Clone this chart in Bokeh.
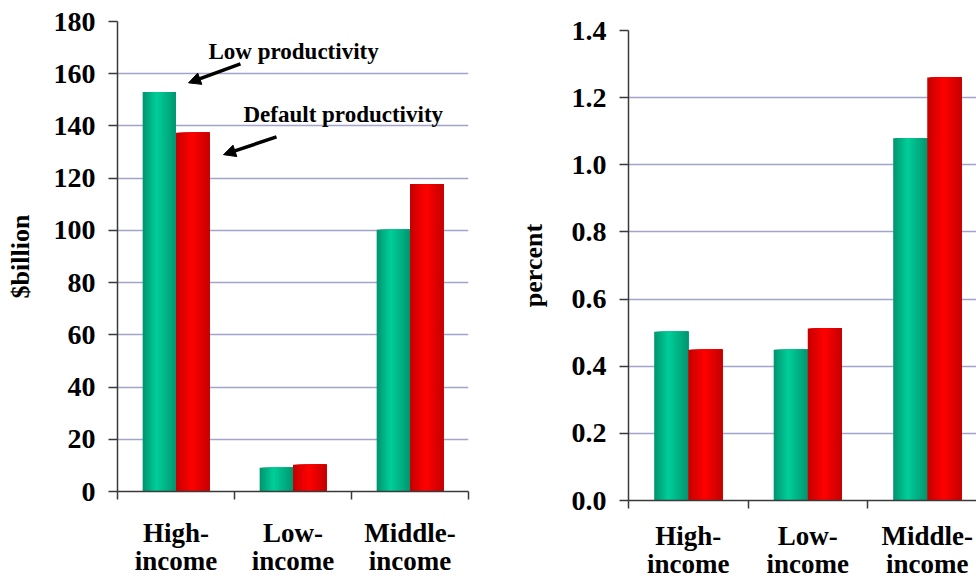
from bokeh.plotting import figure
from bokeh.layouts import row, column
from bokeh.models import Range1d, FixedTicker, Arrow, NormalHead, Label
from bokeh.embed import file_html
from bokeh.resources import INLINE

# --- data -----------------------------------------------------------------
categories = ["High-\nincome", "Low-\nincome", "Middle-\nincome"]

# Welfare change, $billion
billion_low_prod = [153.0, 9.1, 100.2]
billion_default_prod = [137.4, 10.2, 117.8]

# Welfare change, percent
percent_low_prod = [0.503, 0.449, 1.079]
percent_default_prod = [0.449, 0.512, 1.26]

billion_ticks = [0, 20, 40, 60, 80, 100, 120, 140, 160, 180]
percent_ticks = [0.0, 0.2, 0.4, 0.6, 0.8, 1.0, 1.2, 1.4]

series_names = ["Low productivity", "Default  productivity"]

# --- styling --------------------------------------------------------------
FONT = "Liberation Serif"
GRID = "#A3A3CB"
AXIS = "#3a3a3a"
BAR_W = 0.285
N_STRIPS = 20

GREEN_STOPS = [(0.0, (0, 148, 110)), (0.42, (0, 206, 154)), (1.0, (0, 150, 112))]
RED_STOPS = [(0.0, (196, 0, 0)), (0.48, (255, 0, 0)), (1.0, (196, 0, 0))]


def shade(stops, t):
    for (t0, c0), (t1, c1) in zip(stops[:-1], stops[1:]):
        if t0 <= t <= t1:
            f = (t - t0) / (t1 - t0)
            r, g, b = (round(a + (bb - a) * f) for a, bb in zip(c0, c1))
            return "#%02x%02x%02x" % (r, g, b)
    return "#%02x%02x%02x" % stops[-1][1]


def shaded_bars(p, centers, tops, stops):
    # cylinder shading: each strip starts a little further right and runs to
    # the bar's right edge, so later strips overlay earlier ones without seams
    sw = BAR_W / N_STRIPS
    for k in range(N_STRIPS):
        t = (k + 0.5) / N_STRIPS
        w = BAR_W - k * sw
        xs = [c - BAR_W / 2 + k * sw + w / 2 for c in centers]
        p.vbar(x=xs, top=tops, bottom=0, width=w,
               fill_color=shade(stops, t), line_color=None)


def make_panel(width, y_end, y_ticks, low, default, y_label, x_end,
               border_left, border_right, border_top, border_bottom, fmt,
               label_standoff, cat_standoff):
    p = figure(width=width, height=582, output_backend="svg",
               toolbar_location=None,
               x_range=Range1d(0, x_end), y_range=Range1d(0, y_end),
               min_border_left=border_left, min_border_right=border_right,
               min_border_top=border_top, min_border_bottom=border_bottom)
    p.outline_line_color = None
    p.background_fill_color = "white"
    p.border_fill_color = "white"

    idx = list(range(len(categories)))
    green_x = [i + 0.5 - BAR_W / 2 for i in idx]
    red_x = [i + 0.5 + BAR_W / 2 for i in idx]
    shaded_bars(p, green_x, low, GREEN_STOPS)
    shaded_bars(p, red_x, default, RED_STOPS)

    # y axis
    yax = p.yaxis[0]
    yax.ticker = FixedTicker(ticks=y_ticks, minor_ticks=[])
    yax.major_label_overrides = {t: fmt(t) for t in y_ticks}
    yax.major_label_text_font = FONT
    yax.major_label_text_font_style = "bold"
    yax.major_label_text_font_size = "28px"
    yax.major_label_text_color = "black"
    yax.major_label_standoff = 13
    yax.major_tick_out = 9
    yax.major_tick_in = 0
    yax.major_tick_line_color = AXIS
    yax.major_tick_line_width = 1.5
    yax.axis_line_color = AXIS
    yax.axis_line_width = 1.5
    yax.axis_label = y_label
    yax.axis_label_text_font = FONT
    yax.axis_label_text_font_style = "bold"
    yax.axis_label_text_font_size = "26px"
    yax.axis_label_text_color = "black"
    yax.axis_label_standoff = label_standoff

    # x axis: labels centred on categories, ticks at category boundaries
    xax = p.xaxis[0]
    centers = [i + 0.5 for i in idx]
    xax.ticker = FixedTicker(ticks=centers,
                             minor_ticks=list(range(len(categories) + 1)))
    xax.major_label_overrides = {c: lab for c, lab in zip(centers, categories)}
    xax.major_label_text_font = FONT
    xax.major_label_text_font_style = "bold"
    xax.major_label_text_font_size = "27px"
    xax.major_label_text_color = "black"
    xax.major_label_text_line_height = 0.96
    xax.major_label_standoff = cat_standoff
    xax.major_tick_line_color = None
    xax.major_tick_out = 8
    xax.minor_tick_out = 8
    xax.minor_tick_in = 0
    xax.minor_tick_line_color = AXIS
    xax.minor_tick_line_width = 1.5
    xax.axis_line_color = AXIS
    xax.axis_line_width = 1.5

    p.xgrid.grid_line_color = None
    p.ygrid.grid_line_color = GRID
    p.ygrid.grid_line_width = 1.6
    p.ygrid.ticker = FixedTicker(ticks=y_ticks)
    return p


left = make_panel(490, 180, billion_ticks, billion_low_prod,
                  billion_default_prod, "$billion", 3.0,
                  117, 22, 21, 91, lambda t: "%d" % t, 16, 18)
right = make_panel(486, 1.4, percent_ticks, percent_low_prod,
                   percent_default_prod, "percent", 348 / 119.5,
                   138, 0, 30, 82, lambda t: "%.1f" % t, 21, 12)

# series call-outs on the $billion panel
for txt, tx, ty, xs, ys, xe, ye in [
    (series_names[0], 0.778, 168.5, 1.051, 163.8, 0.607, 156.5),
    (series_names[1], 1.077, 144.5, 1.359, 135.8, 0.906, 129.0),
]:
    left.add_layout(Label(x=tx, y=ty, text=txt, text_font=FONT,
                          text_font_style="bold", text_font_size="23px",
                          text_color="black", text_baseline="alphabetic"))
    left.add_layout(Arrow(end=NormalHead(size=12, fill_color="black",
                                         line_color="black", line_width=1),
                          x_start=xs, y_start=ys, x_end=xe, y_end=ye,
                          line_width=3.5, line_color="black"))

layout = row(column(left), column(right), spacing=0)
open("out.html", "w").write(file_html(layout, INLINE))
